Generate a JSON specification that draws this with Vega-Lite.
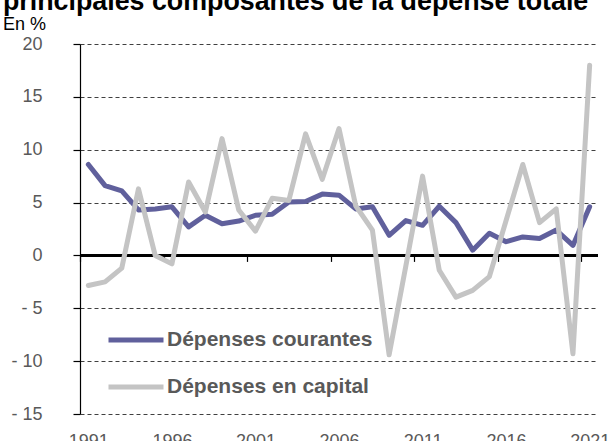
{
  "$schema": "https://vega.github.io/schema/vega-lite/v6.json",
  "autosize": "none",
  "width": 518,
  "height": 370,
  "padding": {"left": 80, "top": 44, "right": 14, "bottom": 27},
  "background": "white",
  "config": {"font": "Liberation Sans", "view": {"stroke": null}},
  "title": {
    "text": "principales composantes de la dépense totale",
    "subtitle": "En %",
    "anchor": "start",
    "frame": "group",
    "dx": -77,
    "fontSize": 26.8,
    "fontWeight": "bold",
    "color": "black",
    "subtitleFontSize": 18,
    "subtitleColor": "black",
    "subtitlePadding": 0.5,
    "offset": 1
  },
  "data": {
    "values": [
      {"year": 1991, "serie": "Dépenses courantes", "value": 8.6},
      {"year": 1992, "serie": "Dépenses courantes", "value": 6.6},
      {"year": 1993, "serie": "Dépenses courantes", "value": 6.1},
      {"year": 1994, "serie": "Dépenses courantes", "value": 4.3},
      {"year": 1995, "serie": "Dépenses courantes", "value": 4.4},
      {"year": 1996, "serie": "Dépenses courantes", "value": 4.6},
      {"year": 1997, "serie": "Dépenses courantes", "value": 2.7},
      {"year": 1998, "serie": "Dépenses courantes", "value": 3.8},
      {"year": 1999, "serie": "Dépenses courantes", "value": 3.0},
      {"year": 2000, "serie": "Dépenses courantes", "value": 3.25},
      {"year": 2001, "serie": "Dépenses courantes", "value": 3.8},
      {"year": 2002, "serie": "Dépenses courantes", "value": 3.9},
      {"year": 2003, "serie": "Dépenses courantes", "value": 5.05},
      {"year": 2004, "serie": "Dépenses courantes", "value": 5.1},
      {"year": 2005, "serie": "Dépenses courantes", "value": 5.8},
      {"year": 2006, "serie": "Dépenses courantes", "value": 5.7},
      {"year": 2007, "serie": "Dépenses courantes", "value": 4.4},
      {"year": 2008, "serie": "Dépenses courantes", "value": 4.6},
      {"year": 2009, "serie": "Dépenses courantes", "value": 1.9},
      {"year": 2010, "serie": "Dépenses courantes", "value": 3.3},
      {"year": 2011, "serie": "Dépenses courantes", "value": 2.85},
      {"year": 2012, "serie": "Dépenses courantes", "value": 4.65},
      {"year": 2013, "serie": "Dépenses courantes", "value": 3.1},
      {"year": 2014, "serie": "Dépenses courantes", "value": 0.5},
      {"year": 2015, "serie": "Dépenses courantes", "value": 2.1},
      {"year": 2016, "serie": "Dépenses courantes", "value": 1.3},
      {"year": 2017, "serie": "Dépenses courantes", "value": 1.75},
      {"year": 2018, "serie": "Dépenses courantes", "value": 1.6},
      {"year": 2019, "serie": "Dépenses courantes", "value": 2.4},
      {"year": 2020, "serie": "Dépenses courantes", "value": 0.95},
      {"year": 2021, "serie": "Dépenses courantes", "value": 4.6},
      {"year": 1991, "serie": "Dépenses en capital", "value": -2.85},
      {"year": 1992, "serie": "Dépenses en capital", "value": -2.5},
      {"year": 1993, "serie": "Dépenses en capital", "value": -1.2},
      {"year": 1994, "serie": "Dépenses en capital", "value": 6.3},
      {"year": 1995, "serie": "Dépenses en capital", "value": 0.0},
      {"year": 1996, "serie": "Dépenses en capital", "value": -0.8},
      {"year": 1997, "serie": "Dépenses en capital", "value": 6.95},
      {"year": 1998, "serie": "Dépenses en capital", "value": 4.1},
      {"year": 1999, "serie": "Dépenses en capital", "value": 11.05},
      {"year": 2000, "serie": "Dépenses en capital", "value": 4.3},
      {"year": 2001, "serie": "Dépenses en capital", "value": 2.3},
      {"year": 2002, "serie": "Dépenses en capital", "value": 5.4},
      {"year": 2003, "serie": "Dépenses en capital", "value": 5.2},
      {"year": 2004, "serie": "Dépenses en capital", "value": 11.5},
      {"year": 2005, "serie": "Dépenses en capital", "value": 7.2},
      {"year": 2006, "serie": "Dépenses en capital", "value": 12.0},
      {"year": 2007, "serie": "Dépenses en capital", "value": 4.7},
      {"year": 2008, "serie": "Dépenses en capital", "value": 2.4},
      {"year": 2009, "serie": "Dépenses en capital", "value": -9.4},
      {"year": 2010, "serie": "Dépenses en capital", "value": -1.0},
      {"year": 2011, "serie": "Dépenses en capital", "value": 7.5},
      {"year": 2012, "serie": "Dépenses en capital", "value": -1.4},
      {"year": 2013, "serie": "Dépenses en capital", "value": -3.95},
      {"year": 2014, "serie": "Dépenses en capital", "value": -3.3},
      {"year": 2015, "serie": "Dépenses en capital", "value": -2.0},
      {"year": 2016, "serie": "Dépenses en capital", "value": 3.3},
      {"year": 2017, "serie": "Dépenses en capital", "value": 8.6},
      {"year": 2018, "serie": "Dépenses en capital", "value": 3.1},
      {"year": 2019, "serie": "Dépenses en capital", "value": 4.4},
      {"year": 2020, "serie": "Dépenses en capital", "value": -9.3},
      {"year": 2021, "serie": "Dépenses en capital", "value": 18.0}
    ]
  },
  "layer": [
    {
      "mark": {"type": "rule", "color": "black", "strokeWidth": 1.5},
      "encoding": {
        "x": {
          "datum": 1990.5,
          "type": "quantitative",
          "scale": {"domain": [1990.5, 2021.5], "nice": false, "zero": false},
          "axis": {
            "orient": "bottom",
            "offset": -158.6,
            "values": [1990.5, 1995.5, 2000.5, 2005.5, 2010.5, 2015.5, 2020.5],
            "labels": false,
            "ticks": true,
            "tickSize": 6,
            "tickColor": "black",
            "tickWidth": 1.2,
            "domain": false,
            "grid": false,
            "title": null
          }
        },
        "x2": {"datum": 2021.5},
        "y": {
          "datum": 0,
          "type": "quantitative",
          "scale": {"domain": [-15, 20], "nice": false, "zero": false},
          "axis": {
            "values": [-15, -10, -5, 0, 5, 10, 15, 20],
            "grid": true,
            "gridDash": [4, 3],
            "gridColor": "#404040",
            "gridWidth": 1,
            "domain": true,
            "domainColor": "black",
            "domainWidth": 1.2,
            "ticks": true,
            "tickColor": "black",
            "tickSize": 7,
            "tickWidth": 1.2,
            "labelPadding": 31,
            "labelFontSize": 18,
            "labelColor": "#595959",
            "labelExpr": "datum.value < 0 ? '- ' + abs(datum.value) : datum.label",
            "title": null
          }
        }
      }
    },
    {
      "mark": {"type": "line", "strokeWidth": 5, "strokeJoin": "round", "strokeCap": "round"},
      "encoding": {
        "x": {
          "field": "year",
          "type": "quantitative",
          "axis": {
            "orient": "bottom",
            "values": [1991, 1996, 2001, 2006, 2011, 2016, 2021],
            "format": "d",
            "labels": true,
            "labelFlush": false,
            "labelPadding": 18,
            "labelFontSize": 18,
            "labelColor": "#595959",
            "ticks": false,
            "domain": false,
            "grid": false,
            "title": null
          }
        },
        "y": {"field": "value", "type": "quantitative"},
        "color": {
          "field": "serie",
          "type": "nominal",
          "scale": {"domain": ["Dépenses courantes", "Dépenses en capital"], "range": ["#60609C", "#C4C4C4"]},
          "legend": {
            "orient": "none",
            "legendX": 26,
            "legendY": 266,
            "title": null,
            "symbolType": "stroke",
            "symbolStrokeWidth": 5,
            "symbolSize": 3025,
            "labelFontSize": 21,
            "labelFontWeight": "bold",
            "labelColor": "#595959",
            "labelOffset": 1,
            "labelLimit": 400,
            "rowPadding": 7
          }
        }
      }
    }
  ],
  "resolve": {"axis": {"x": "independent"}}
}
